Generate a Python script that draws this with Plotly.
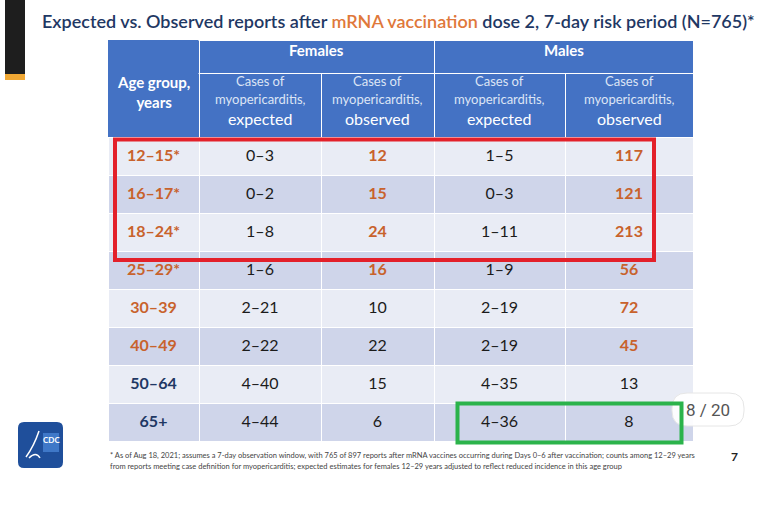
import plotly.graph_objects as go

W, H = 760, 512

# ---------------- data ----------------
title_before = "Expected vs. Observed reports after "
title_highlight = "mRNA vaccination"
title_after = " dose 2, 7-day risk period (N=765)*"

age_header = "Age group,<br>years"
sex_groups = ["Females", "Males"]
column_kinds = ["expected", "observed"]
sub_header_lines = ["Cases of", "myopericarditis,"]

age_groups = ["12–15*", "16–17*", "18–24*", "25–29*", "30–39", "40–49", "50–64", "65+"]
female_expected = ["0–3", "0–2", "1–8", "1–6", "2–21", "2–22", "4–40", "4–44"]
female_observed = [12, 15, 24, 16, 10, 22, 15, 6]
male_expected = ["1–5", "0–3", "1–11", "1–9", "2–19", "2–19", "4–35", "4–36"]
male_observed = [117, 121, 213, 56, 72, 45, 13, 8]

footnote_lines = [
    "* As of Aug 18, 2021; assumes a 7-day observation window, with 765 of 897 reports after mRNA vaccines occurring during Days 0–6 after vaccination; counts among 12–29 years",
    "from reports meeting case definition for myopericarditis; expected estimates for females 12–29 years adjusted to reflect reduced incidence in this age group",
]
page_label = "8 / 20"
slide_number = "7"
logo_text = "CDC"

# ---------------- styles ----------------
FONT = "Lato, 'Open Sans', sans-serif"
HEADER_BLUE = "#4472c4"
ROW_LIGHT = "#e9ecf5"
ROW_DARK = "#cfd5ea"
ORANGE = "#c8622c"
TITLE_ORANGE = "#e0783a"
NAVY = "#1f3864"
TEXT = "#1b1b1b"
RED = "#e3202a"
GREEN = "#2bb34b"
CELL_TEXT_PX = 16
CELL_BASE_PX = 11   # small leading line pushes the value down to the row centre

col_edges = [108, 199, 321, 434, 565, 693]
col_widths = [b - a for a, b in zip(col_edges[:-1], col_edges[1:])]
header_top, header_mid, header_bottom = 40, 73, 137
row_h = 38


def px(x):
    return x / W


def py(y):
    return 1 - y / H


def upper(rng):
    return int(rng.split("–")[1])


fem_hi = [o > upper(e) for o, e in zip(female_observed, female_expected)]
male_hi = [o > upper(e) for o, e in zip(male_observed, male_expected)]
age_hi = [a or b for a, b in zip(fem_hi, male_hi)]

n = len(age_groups)
row_fill = [ROW_LIGHT if i % 2 == 0 else ROW_DARK for i in range(n)]


def cell(v, bold=False):
    t = f"<b>{v}</b>" if bold else str(v)
    return f"<br><span style='font-size:{CELL_TEXT_PX}px'>{t}</span>"


cells_values = [
    [cell(a, True) for a in age_groups],
    [cell(v) for v in female_expected],
    [cell(v, h) for v, h in zip(female_observed, fem_hi)],
    [cell(v) for v in male_expected],
    [cell(v, h) for v, h in zip(male_observed, male_hi)],
]
cells_colors = [
    [ORANGE if h else NAVY for h in age_hi],
    [TEXT] * n,
    [ORANGE if h else TEXT for h in fem_hi],
    [TEXT] * n,
    [ORANGE if h else TEXT for h in male_hi],
]

fig = go.Figure()

# top header row (Females / Males) - blue cells with white rules
top_widths = [col_widths[0], col_widths[1] + col_widths[2], col_widths[3] + col_widths[4]]
fig.add_trace(go.Table(
    domain=dict(x=[px(col_edges[0]), px(col_edges[-1])], y=[py(header_mid + 30), py(header_top)]),
    columnwidth=top_widths,
    header=dict(
        values=["", "", ""],
        fill_color=HEADER_BLUE,
        line=dict(color="white", width=1),
        font=dict(family=FONT, size=15, color="white"),
        height=header_mid - header_top,
    ),
    cells=dict(values=[[""], [""], [""]], height=20,
               fill_color="white", line=dict(color="white", width=0)),
))

# main table
fig.add_trace(go.Table(
    domain=dict(x=[px(col_edges[0]), px(col_edges[-1])], y=[0, py(header_mid)]),
    columnwidth=col_widths,
    header=dict(
        values=[""] * 5,
        fill_color=HEADER_BLUE,
        line=dict(color="white", width=1),
        font=dict(family=FONT, size=13, color="white"),
        height=header_bottom - header_mid,
    ),
    cells=dict(
        values=cells_values,
        fill_color=[row_fill] * 5,
        line=dict(color="white", width=1),
        font=dict(family=FONT, size=CELL_BASE_PX, color=cells_colors),
        align="center",
        height=row_h,
    ),
))

shapes = []
annotations = []


def note(x, y, text, size, color, xanchor="center", yanchor="middle", family=FONT, **kw):
    annotations.append(dict(xref="paper", yref="paper", x=px(x), y=py(y), text=text,
                            xanchor=xanchor, yanchor=yanchor, showarrow=False,
                            font=dict(family=family, size=size, color=color, **kw)))


# merged "Age group" header cell
shapes.append(dict(type="rect", xref="paper", yref="paper", layer="above",
                   x0=px(col_edges[0]), x1=px(col_edges[1] - 0.5),
                   y0=py(header_bottom), y1=py(header_top),
                   fillcolor=HEADER_BLUE, line=dict(width=0)))
note((col_edges[0] + col_edges[1]) / 2, 92, f"<b>{age_header}</b>", 15, "white")

# Females / Males
for i, s in enumerate(sex_groups):
    note((col_edges[1 + 2 * i] + col_edges[3 + 2 * i]) / 2, 50, f"<b>{s}</b>", 15, "white")
    for j, k in enumerate(column_kinds):
        c = 1 + 2 * i + j
        xc = (col_edges[c] + col_edges[c + 1]) / 2
        note(xc, 81, sub_header_lines[0], 13, "#dde5f5")
        note(xc, 99, sub_header_lines[1], 13, "#dde5f5")
        note(xc, 118, k, 16, "white")

# highlight boxes
shapes.append(dict(type="rect", xref="paper", yref="paper", layer="above",
                   x0=px(115), x1=px(654), y0=py(139.5), y1=py(260),
                   line=dict(color=RED, width=4)))

# left accent bar
shapes.append(dict(type="rect", xref="paper", yref="paper", layer="above",
                   x0=px(5), x1=px(25), y0=py(74), y1=py(0),
                   fillcolor="#1e1e1e", line=dict(width=0)))
shapes.append(dict(type="rect", xref="paper", yref="paper", layer="above",
                   x0=px(5), x1=px(25), y0=py(80), y1=py(74),
                   fillcolor="#f0a834", line=dict(width=0)))


def rounded(x0, y0, x1, y1, r):
    rx, ry = r / W, r / H
    X0, X1, Y0, Y1 = px(x0), px(x1), py(y1), py(y0)
    return (f"M{X0+rx},{Y0} L{X1-rx},{Y0} Q{X1},{Y0} {X1},{Y0+ry} "
            f"L{X1},{Y1-ry} Q{X1},{Y1} {X1-rx},{Y1} L{X0+rx},{Y1} "
            f"Q{X0},{Y1} {X0},{Y1-ry} L{X0},{Y0+ry} Q{X0},{Y0} {X0+rx},{Y0} Z")


# page pill (under the green box)
shapes.append(dict(type="path", xref="paper", yref="paper", layer="above",
                   path=rounded(672, 393, 744, 426, 15),
                   fillcolor="rgba(255,255,255,0.93)", line=dict(color="#e6e6e6", width=1)))
note(708, 410, page_label, 17, "#555555", family="Roboto, sans-serif")

shapes.append(dict(type="rect", xref="paper", yref="paper", layer="above",
                   x0=px(457.5), x1=px(681.5), y0=py(403.5), y1=py(442.5),
                   line=dict(color=GREEN, width=4)))

# CDC logo
shapes.append(dict(type="path", xref="paper", yref="paper", layer="above",
                   path=rounded(18, 422, 63, 468, 6),
                   fillcolor="#1f4f9b", line=dict(width=0)))
shapes.append(dict(type="rect", xref="paper", yref="paper", layer="above",
                   x0=px(43), x1=px(59), y0=py(452), y1=py(433),
                   fillcolor="#3f78c8", line=dict(width=0)))
shapes.append(dict(type="path", xref="paper", yref="paper", layer="above",
                   path=f"M{px(26)},{py(457)} Q{px(34)},{py(446)} {px(39)},{py(431)}",
                   line=dict(color="white", width=1.5)))
shapes.append(dict(type="path", xref="paper", yref="paper", layer="above",
                   path=f"M{px(29)},{py(458)} Q{px(36)},{py(451)} {px(40)},{py(458)}",
                   line=dict(color="white", width=1.5)))
note(51, 440, f"<b>{logo_text}</b>", 8, "white")

# title
note(40, 21, f"{title_before}<span style='color:{TITLE_ORANGE}'>{title_highlight}</span>{title_after}",
     18, NAVY, xanchor="left", weight=600)

# footnote
for i, line in enumerate(footnote_lines):
    note(108, 455 + 11 * i, line, 7.5, "#444444", xanchor="left")

note(734, 456, f"<b>{slide_number}</b>", 12, "#222222")

fig.update_layout(
    width=W, height=H,
    margin=dict(l=0, r=0, t=0, b=0),
    paper_bgcolor="white", plot_bgcolor="white",
    shapes=shapes, annotations=annotations,
    showlegend=False,
)

fig.write_html("out.html", config={"displayModeBar": False},
               post_script="document.body.style.margin='0';document.body.style.overflow='hidden';")
